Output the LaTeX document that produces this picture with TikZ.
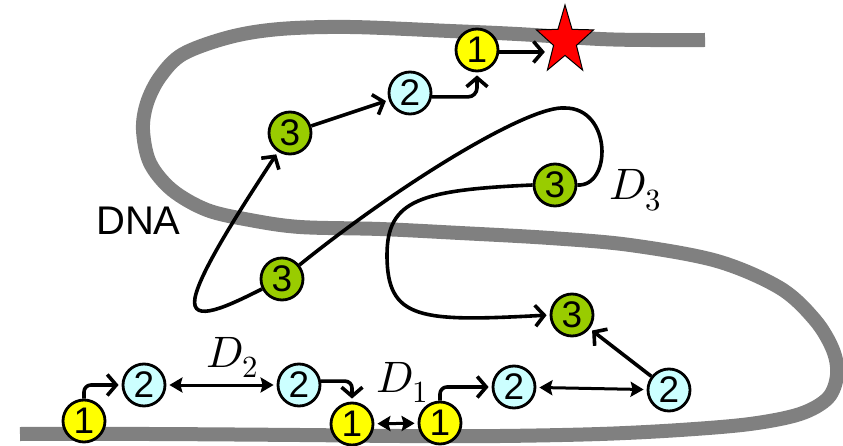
\documentclass[tikz,border=0pt]{standalone}
\usepackage{fontspec}
\usepackage{unicode-math}
\usetikzlibrary{arrows.meta,shapes.geometric}
\newfontfamily\arialfont{Liberation Sans}
\definecolor{siteyellow}{HTML}{FFFF00}
\definecolor{sitecyan}{HTML}{CCFFFF}
\definecolor{sitegreen}{HTML}{99CC00}
\definecolor{dnagray}{HTML}{808080}
\tikzset{
	site/.style={circle,draw,line width=2.8pt,minimum size=42pt,inner sep=0pt,
		font=\arialfont\fontsize{37}{37}\selectfont},
	site1/.style={site,fill=siteyellow},
	site2/.style={site,fill=sitecyan},
	site3/.style={site,fill=sitegreen},
	hop/.style={line width=3.6pt,-{Straight Barb[length=9pt,width=21pt]},shorten >=3pt},
	slide/.style={line width=3pt,{Stealth[length=13pt,width=15pt,inset=2pt]}-{Stealth[length=13pt,width=15pt,inset=2pt]},
		shorten <=3pt,shorten >=3pt},
	dlabel/.style={anchor=base west,inner sep=0pt,font=\fontsize{44}{50}\selectfont},
}

\begin{document}
\begin{tikzpicture}[x=1pt,y=-1pt]
	\useasboundingbox (0,0) rectangle (843,446);
	% DNA strand
	\draw[dnagray,line width=14pt] plot[smooth,tension=0.55] coordinates {
		(705,40) (650,40) (600,39) (517,34) (450,31) (350,27) (280,29) (230,37)
		(183,54) (160,77) (147,103) (143,130) (150,163) (172,190) (207,210)
		(250,220) (300,227) (380,229) (460,233) (550,238) (630,245) (717,261)
		(780,288) (815,320) (833,350) (837,375) (828,398) (800,414) (750,424)
		(680,430) (600,434) (500,436) (400,436) (300,435) (150,434) (20,434)};
	\node[anchor=base west,inner sep=0pt,font=\arialfont\fontsize{40}{40}\selectfont] (dna) at (96,235) {DNA};
	% binding sites
	\node[site1] (one1) at (84,421) {1};
	\node[site2] (two1) at (144,385) {2};
	\node[site2] (two2) at (299,385) {2};
	\node[site1] (one2) at (352,424) {1};
	\node[site1] (one3) at (440,423) {1};
	\node[site2] (two3) at (514,387) {2};
	\node[site2] (two4) at (669,390) {2};
	\node[site3] (three1) at (572,315) {3};
	\node[site3] (three2) at (555,185) {3};
	\node[site3] (three3) at (282,279) {3};
	\node[site3] (three4) at (290,133) {3};
	\node[site2] (two5) at (410,93) {2};
	\node[site1] (one4) at (477,50) {1};
	\begin{scope}[shift={(565,41)},yscale=1.2]
		\node[star,star points=5,star point ratio=2.5,draw,line width=1pt,fill=red,
			minimum size=60pt,inner sep=0pt,transform shape] (target) at (0,0) {};
	\end{scope}
	% distances
	\node[dlabel] (d2) at (206,367) {$D_2$};
	\node[dlabel] (d1) at (376,392) {$D_1$};
	\node[dlabel] (d3) at (609,200) {$D_3$};
	% moves
	\draw[hop,rounded corners=7pt] (one1.north) |- (two1.west);
	\draw[slide] (two1) -- (two2);
	\draw[hop,rounded corners=7pt] (two2.10) -| (one2.north);
	\draw[slide] (one2) -- (one3);
	\draw[hop,rounded corners=7pt] (one3.north) |- (two3.west);
	\draw[slide] (two3) -- (two4);
	\draw[hop] (two4) -- (three1);
	\draw[hop] (three2.west) .. controls (420,190) and (387,200) .. (387,255)
		.. controls (387,320) and (420,322) .. (three1.west);
	\draw[line width=3.6pt] (three2.east) .. controls (612,187) and (612,108) .. (565,108)
		.. controls (530,105) and (405,180) .. (three3);
	\draw[hop] (three3) .. controls (230,305) and (190,325) .. (195,298)
		.. controls (200,270) and (250,195) .. (three4);
	\draw[hop] (three4) -- (two5);
	\draw[hop,rounded corners=9pt] (two5.-10) -| (one4.south);
	\draw[hop] (one4.-5) -- (one4.-5 -| target.west);
\end{tikzpicture}
\end{document}
